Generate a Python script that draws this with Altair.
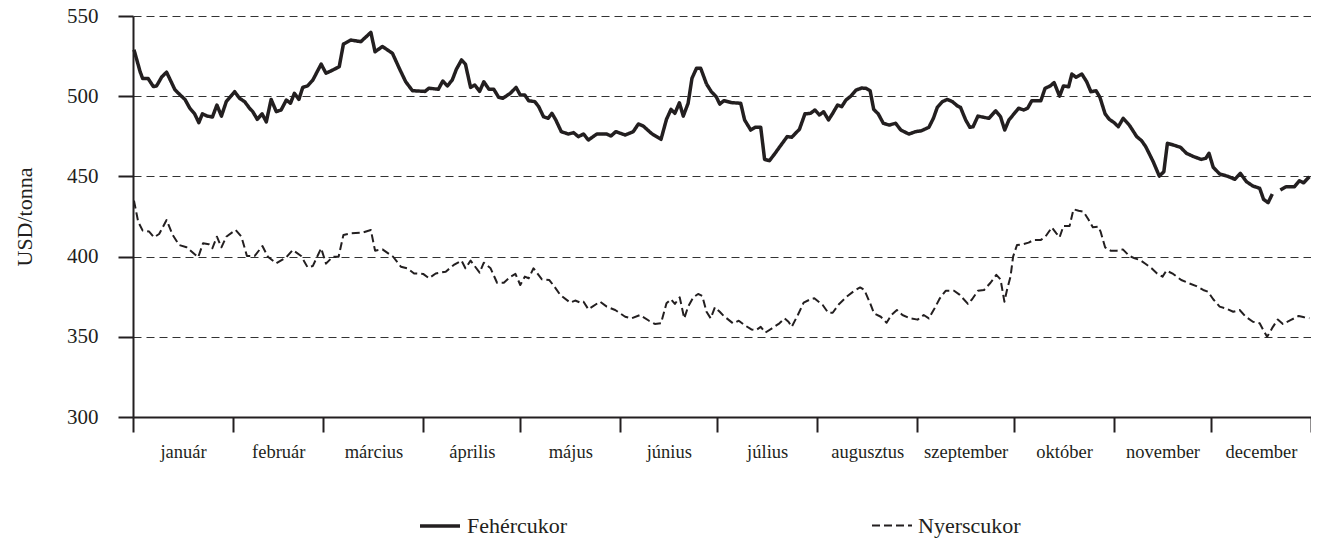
import altair as alt
import pandas as pd

MONTHS = ["január", "február", "március", "április", "május", "június",
          "július", "augusztus", "szeptember", "október", "november", "december"]
MONTH_START = [0, 31, 59, 90, 120, 151, 181, 212, 243, 273, 304, 334, 365]
Y_TICKS = [300, 350, 400, 450, 500, 550]
SERIES = ["Fehércukor", "Nyerscukor"]

# (day of year, USD/tonna) — white sugar; None marks a gap in the line
WHITE = [(0.3, 529), (2.2, 515.3), (3.0, 511), (4.7, 511), (6.3, 506), (7.3, 506.4), (8.9, 512),
         (10.4, 515), (13.0, 504), (14.5, 501), (16.1, 498), (17.6, 492.5), (19.1, 489), (20.4, 483.5),
         (21.5, 489), (22.9, 487.7), (24.6, 487), (26.0, 494.5), (27.4, 487.6), (28.9, 496.6),
         (31.5, 502.8), (33.0, 498.7), (34.6, 496.6), (36.1, 492.5), (37.1, 490.4), (38.5, 485.6),
         (40.0, 489), (41.3, 484), (42.8, 498), (44.4, 490.4), (45.9, 491.4), (47.5, 497.6),
         (48.8, 495.6), (50.0, 501.8), (51.4, 498), (52.6, 505.5), (54.1, 506.4), (55.7, 510),
         (58.3, 520), (59.8, 514.3), (61.9, 516.3), (63.9, 518.4), (65.2, 532.5), (67.5, 535),
         (70.6, 534), (72.2, 537), (73.7, 539.8), (75.0, 527.7), (77.3, 531), (80.4, 526.7),
         (82.5, 517.4), (84.5, 509), (86.6, 503.4), (90.5, 503), (91.7, 505), (94.6, 504.3),
         (96.0, 509.5), (97.4, 506.4), (98.9, 510), (100.2, 516.8), (101.8, 522.6), (103.0, 520),
         (104.6, 505.5), (105.9, 507), (107.4, 503), (108.7, 509), (110.3, 504.3), (111.8, 504.3),
         (113.3, 499.3), (114.6, 498.7), (116.9, 501.8), (118.7, 505.5), (120.0, 500.7), (121.4, 500.7),
         (122.6, 497.2), (124.5, 496.6), (125.7, 493.5), (127.2, 487.2), (128.6, 486.2), (129.8, 489.3),
         (131.0, 485.2), (132.7, 477.9), (134.9, 476.4), (136.5, 477.3), (138.0, 474.8), (139.6, 476.4),
         (141.1, 472.7), (143.7, 476.4), (146.8, 476.4), (148.1, 475.2), (149.6, 477.9), (152.5, 475.8),
         (155.0, 477.9), (156.6, 482.7), (158.1, 481.4), (160.7, 476.7), (163.6, 473.1), (165.3, 485.6),
         (166.7, 491.8), (167.9, 489.3), (169.3, 495.9), (170.5, 487.6), (172.0, 495.6), (173.2, 511.2),
         (174.6, 517.4), (175.9, 517.4), (177.7, 507.6), (179.2, 502.8), (180.7, 499.7), (181.8, 495.1),
         (183.1, 497.2), (185.4, 496), (188.3, 495.6), (189.5, 485.2), (191.4, 478.9), (192.8, 480.6),
         (194.5, 480.6), (195.7, 460.6), (197.2, 459.8), (198.8, 464), (200.8, 469.6), (202.7, 474.8),
         (204.1, 474.4), (206.5, 479.4), (208.2, 489), (209.9, 489.3), (211.3, 491.4), (212.7, 488.3),
         (214.0, 490.3), (215.5, 485.2), (216.8, 489.3), (218.3, 494.5), (219.6, 493.5), (220.9, 497.6),
         (222.4, 500), (224.0, 503.8), (225.8, 505.1), (227.1, 504.9), (228.4, 503.4), (229.5, 491.8),
         (230.9, 489), (232.5, 483.1), (234.3, 482), (236.3, 483.1), (237.9, 478.9), (240.4, 476.4),
         (242.5, 477.9), (244.2, 478.4), (246.6, 480.6), (248.0, 486.2), (249.2, 493), (250.8, 496.6),
         (252.3, 498), (253.9, 496.6), (255.4, 494), (256.4, 493), (258.0, 485.2), (259.3, 480.6),
         (260.3, 481), (261.8, 487.6), (263.7, 486.8), (265.2, 486.2), (267.3, 490.9), (268.8, 487.2),
         (270.1, 478.9), (271.4, 485.2), (273.1, 489.3), (274.4, 492.5), (276.0, 491.4), (277.2, 492.5),
         (278.5, 497.2), (281.3, 497.2), (282.6, 504.9), (284.2, 506.4), (285.4, 508.5), (287.1, 500),
         (288.3, 506.4), (289.9, 505.9), (290.9, 513.8), (292.2, 511.8), (294.0, 513.8), (295.5, 509),
         (296.8, 502.8), (298.4, 503.4), (299.6, 499.3), (301.2, 489), (302.5, 485.6), (304.0, 483.5),
         (305.3, 481), (306.8, 486.2), (308.7, 482), (311.0, 474.8), (312.5, 472.3), (313.8, 468.5),
         (316.1, 459.2), (318.0, 450.2), (319.4, 452.9), (320.5, 470.6), (322.3, 469.6), (324.6, 468.1),
         (326.4, 464.4), (328.7, 462.3), (331.0, 460.6), (332.4, 461.3), (333.4, 464.4), (334.7, 455.7),
         (336.7, 451.5), (339.0, 450.2), (341.4, 448.2), (343.1, 451.9), (345.0, 446.7), (347.0, 444),
         (349.1, 442.6), (350.3, 435.7), (351.7, 433.6), (353.0, 439), (354.2, None), (355.5, 441.5),
         (357.3, 443.6), (359.9, 443.6), (361.4, 447.3), (362.7, 446), (364.5, 449.8)]

# (day of year, USD/tonna) — raw sugar
RAW = [(0.3, 434.9), (1.6, 421.8), (3.0, 416.2), (5.0, 415.6), (6.5, 412), (8.1, 414.1), (10.4, 422.8),
       (12.3, 413.5), (14.3, 407.2), (16.6, 405.8), (20.2, 399.6), (21.7, 408.3), (23.5, 407.7),
       (24.6, 405.2), (26.0, 412.4), (27.4, 405.8), (28.9, 412.4), (31.8, 416.6), (33.6, 412.4),
       (35.3, 400.4), (37.7, 400.4), (40.1, 406.6), (41.8, 399.9), (44.4, 395.8), (47.5, 399.6),
       (49.5, 404.1), (52.1, 400.4), (54.1, 393.3), (55.7, 394.1), (58.3, 405.2), (59.8, 395.6),
       (61.9, 399.9), (63.7, 399.9), (65.2, 413.5), (67.5, 414.5), (71.1, 415), (73.7, 416.6),
       (75.0, 403.7), (77.3, 404.5), (80.6, 399.9), (83.0, 393.7), (85.0, 392.7), (87.1, 389.5),
       (89.9, 389.2), (91.7, 386.5), (93.8, 389.5), (96.9, 390.6), (99.4, 394.8), (101.8, 397.5),
       (103.0, 392.7), (104.6, 397.5), (107.4, 390), (108.7, 396.2), (110.8, 392.7), (112.8, 383.7),
       (114.9, 383.7), (117.0, 387.5), (118.5, 389.2), (120.0, 382.3), (121.4, 387.5), (122.6, 386.5),
       (124.1, 392.7), (126.7, 385.8), (129.0, 385.4), (130.6, 381.2), (132.4, 376.1), (135.5, 371.3),
       (137.0, 372.6), (138.6, 371.3), (139.6, 371.9), (141.1, 367.1), (144.7, 371.9), (146.8, 368.8),
       (149.4, 366.7), (152.5, 362.5), (154.5, 361.5), (157.1, 363.6), (159.9, 360), (161.7, 358),
       (163.6, 358.4), (165.3, 370.9), (166.7, 373.4), (167.9, 370.5), (169.4, 374.6), (170.8, 361.5),
       (172.0, 368.8), (173.6, 374.6), (175.1, 376.7), (176.4, 375.4), (177.7, 365.6), (179.0, 361.5),
       (180.3, 368.4), (181.8, 365.6), (183.1, 362.9), (185.9, 358.4), (187.7, 360), (189.5, 357.3),
       (191.6, 354.6), (193.1, 354.2), (194.5, 356.2), (195.9, 352.6), (198.0, 355.3), (200.3, 358.4),
       (201.9, 361.5), (203.1, 359.4), (204.1, 356.2), (206.0, 363.6), (207.8, 371.3), (209.9, 373.4),
       (211.1, 374), (213.7, 369.8), (215.4, 365), (216.8, 365), (218.8, 370.5), (221.4, 375.4),
       (223.5, 378.7), (225.3, 380.8), (226.6, 379.2), (228.4, 370.9), (229.6, 364.6), (231.7, 362.5),
       (233.5, 358.8), (235.0, 363.6), (236.7, 366.7), (238.4, 363.6), (240.8, 361.5), (243.1, 360.7),
       (245.0, 363.6), (246.6, 361.5), (248.2, 367.1), (250.0, 374), (251.8, 378.7), (254.4, 378.7),
       (256.2, 376.1), (258.7, 370.5), (260.0, 373.4), (261.8, 378.7), (263.7, 379.2), (265.7, 383.7),
       (267.5, 388.6), (268.8, 385.8), (270.0, 371.9), (270.8, 379.2), (271.9, 387.5), (272.7, 400),
       (273.9, 407.2), (276.0, 407.8), (277.5, 408.7), (279.1, 410.4), (281.3, 410.4), (282.7, 412.4),
       (284.7, 418.2), (286.1, 414.5), (287.1, 412), (288.3, 419.1), (290.2, 419.1), (291.4, 429.5),
       (293.0, 428.6), (294.5, 428), (296.0, 423.3), (297.4, 418.3), (299.1, 418.7), (299.8, 415.6),
       (301.2, 405.8), (302.9, 403.7), (304.8, 403.7), (306.7, 404.5), (308.7, 400.4), (310.4, 398.9),
       (312.0, 397.9), (313.8, 395.4), (315.6, 392.7), (317.3, 389.5), (319.0, 387.5), (320.2, 391.3),
       (322.3, 389.2), (324.8, 385.4), (327.3, 383.3), (329.5, 381.6), (331.6, 379.2), (333.1, 378.1),
       (334.7, 373.4), (336.7, 368.8), (338.6, 367.7), (340.9, 365.6), (342.9, 366.7), (344.8, 362.5),
       (347.0, 359.4), (349.1, 358.4), (350.1, 354.6), (351.4, 350), (353.2, 356.2), (354.7, 360.8),
       (356.3, 358), (358.8, 360.5), (361.2, 363), (362.9, 362.2), (364.5, 361.6)]

rows = []
for d, v in WHITE:
    rows.append({"day": d, "price": v, "series": SERIES[0], "order": d})
for d, v in RAW:
    rows.append({"day": d, "price": v, "series": SERIES[1], "order": d})
df = pd.DataFrame(rows)

mids = [(MONTH_START[i] + MONTH_START[i + 1]) / 2 for i in range(12)]
mids_js = "[" + ",".join(str(m) for m in mids) + "]"
names_js = "[" + ",".join("'" + n + "'" for n in MONTHS) + "]"
label_expr = f"indexof({mids_js}, datum.value) >= 0 ? {names_js}[indexof({mids_js}, datum.value)] : ''"
tick_test = f"indexof({mids_js}, datum.value) >= 0"

FONT = "Liberation Serif"
INK = "#231f20"

x_axis = alt.Axis(
    values=MONTH_START + mids, labelExpr=label_expr, title=None, grid=False,
    tickSize=15, tickWidth=2, tickColor=INK,
    tickOpacity={"condition": {"test": tick_test, "value": 0}, "value": 1},
    domainColor=INK, domainWidth=2,
    labelFont=FONT, labelFontSize=18.5, labelColor=INK, labelPadding=10,
    labelOverlap=False, labelFlush=False,
)
y_axis = alt.Axis(
    values=Y_TICKS, title="USD/tonna", grid=True, gridDash=[8, 5], gridColor="#333333", gridWidth=1,
    tickSize=15, tickWidth=2, tickColor=INK, domainColor=INK, domainWidth=2,
    labelFont=FONT, labelFontSize=21, labelColor=INK, labelPadding=20,
    titleFont=FONT, titleFontSize=22, titleFontWeight="normal", titleColor=INK, titlePadding=30,
)

legend_kw = dict(
    orient="none", legendX=285, legendY=488, direction="horizontal", title=None,
    symbolType="stroke", symbolSize=1600, symbolStrokeColor=INK,
    labelFont=FONT, labelFontSize=22, labelColor=INK, labelOffset=5, columnPadding=300,
)

chart = alt.Chart(df).mark_line(invalid="break-paths-show-domains", strokeJoin="round", color=INK).encode(
    x=alt.X("day:Q", scale=alt.Scale(domain=[0, 365], nice=False, zero=False), axis=x_axis),
    y=alt.Y("price:Q", scale=alt.Scale(domain=[300, 550], nice=False, zero=False), axis=y_axis),
    strokeDash=alt.StrokeDash("series:N", scale=alt.Scale(domain=SERIES, range=[[1, 0], [8, 4]]),
                              legend=alt.Legend(**legend_kw)),
    strokeWidth=alt.StrokeWidth("series:O", scale=alt.Scale(type="ordinal", domain=SERIES, range=[3.5, 2]),
                                legend=alt.Legend(**legend_kw)),
    order="order:Q",
).properties(
    width=1178, height=401,
    autosize=alt.AutoSizeParams(type="none"),
    padding={"left": 125, "top": 8, "right": 0, "bottom": 123},
).configure_view(stroke=None)

chart.save("out.html", embed_options={"renderer": "svg", "actions": False})
